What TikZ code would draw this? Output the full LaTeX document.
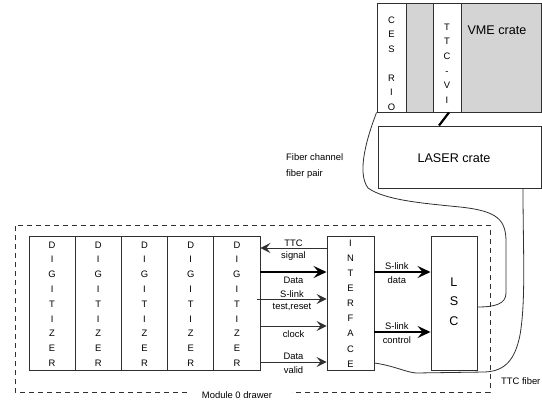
\documentclass[tikz,border=0pt]{standalone}
\usepackage{fontspec}
\setmainfont{Liberation Sans}
\usetikzlibrary{arrows.meta,calc,positioning}
\definecolor{crategray}{HTML}{D4D4D4}
\definecolor{ink}{HTML}{303030}
\tikzset{
  box/.style={draw=ink,line width=0.9pt,inner sep=0pt},
  stk/.style={align=center,font=\fontsize{9.4}{14.8}\selectfont},
  lbl/.style={font=\fontsize{9.4}{11}\selectfont,inner sep=1pt},
  sig/.style={draw=ink,line width=0.9pt,-{Stealth[length=10pt,width=10pt,inset=4pt]}},
  bus/.style={draw=black,line width=2.6pt,-{Stealth[length=13pt,width=12pt,inset=5pt]}},
  fiber/.style={draw=ink,line width=0.8pt},
  drawer/.style={draw=ink,line width=0.8pt,dash pattern=on 5pt off 4pt},
}
\begin{document}
\begin{tikzpicture}[x=1pt,y=-1pt]
  \useasboundingbox (0,0) rectangle (542,400);
  % VME crate with its two modules
  \filldraw[fill=crategray,draw=ink,line width=0.9pt] (377,3) rectangle (541,112);
  \node[box,fill=white,minimum width=29pt,minimum height=109pt] (ces) at (391.5,57.5) {};
  \node[stk,font=\fontsize{9.4}{14.5}\selectfont] at (391.5,63.5) {C\\E\\S\\~\\R\\I\\O};
  \node[box,fill=white,minimum width=28pt,minimum height=109pt] (ttcvi) at (447,57.5) {};
  \node[stk,font=\fontsize{9.4}{14.6}\selectfont] at (447,63.5) {T\\T\\C\\-\\V\\I};
  \node[anchor=west,font=\fontsize{12.6}{14}\selectfont] (vme) at (464,30) {VME crate};
  \node[box,minimum width=163pt,minimum height=62pt] (laser) at (459.5,157) {};
  \node[font=\fontsize{12.6}{14}\selectfont] at (454,158) {LASER crate};
  \draw[line width=2.2pt] ($(ttcvi.south)+(2,0)$) -- (laser.north -| 439,0);
  \node[lbl,anchor=west,align=left,font=\fontsize{9.4}{16}\selectfont] (fc) at (285,166)
    {Fiber channel\\fiber pair};
  % module 0 drawer
  \draw[drawer] (187,392) -- (15,392) -- (15,225) -- (490,225) -- (490,392) -- (292,392);
  \node[lbl] (mod) at (237,395) {Module 0 drawer};
  \foreach \i/\x in {1/52.1,2/98.3,3/144.5,4/190.7,5/236.9}{
    \node[box,minimum width=46.2pt,minimum height=134pt] (dig\i) at (\x,303) {};
    \node[stk] at (\x,304) {D\\I\\G\\I\\T\\I\\Z\\E\\R};
  }
  \node[box,minimum width=47pt,minimum height=134pt] (int) at (350.5,303) {};
  \node[stk,font=\fontsize{9.4}{15.1}\selectfont] at (350.5,303.5) {I\\N\\T\\E\\R\\F\\A\\C\\E};
  \node[box,minimum width=46pt,minimum height=134pt] (lsc) at (454,303) {};
  \node[stk,font=\fontsize{12.6}{19.5}\selectfont] at (454,301.5) {L\\S\\C};
  % signals between digitizers and interface
  \draw[sig] (int.west |- 0,248) -- (dig5.east |- 0,248)
    node[lbl,midway,above] {TTC} node[lbl,midway,below=2.5pt] {signal};
  \draw[bus] (dig5.east |- 0,272) -- (int.west |- 0,272)
    node[lbl,midway,below=3pt] {Data};
  \draw[sig] ($(dig5.east |- 0,299)+(-3,0)$) -- (int.west |- 0,299)
    node[lbl,midway,above] {S-link} node[lbl,midway,below=3pt] {test,reset};
  \draw[sig] (dig5.east |- 0,326) -- (int.west |- 0,326)
    node[lbl,midway,below=3.5pt] {clock};
  \draw[sig] (dig5.east |- 0,362) -- (int.west |- 0,362)
    node[lbl,midway,above=1pt] {Data} node[lbl,midway,below=3pt] {valid};
  % S-link to the LSC
  \draw[bus] (int.east |- 0,272) -- (lsc.west |- 0,272)
    node[lbl,pos=0.4,above] {S-link} node[lbl,pos=0.4,below=2.5pt] {data};
  \draw[bus] (int.east |- 0,332) -- (lsc.west |- 0,332)
    node[lbl,pos=0.4,above] {S-link} node[lbl,pos=0.4,below=2.5pt] {control};
  % fibers
  \draw[fiber] (ces.south west) .. controls (368,135) and (356,172) .. (368,188)
    .. controls (385,200) and (420,203) .. (460,207)
    .. controls (498,211) and (506,220) .. (506,242) -- (506,293)
    .. controls (506,304) and (495,307) .. (lsc.east |- 0,307);
  \draw[fiber] (laser.south -| 523,0) .. controls (523,250) and (526,300) .. (520,335)
    .. controls (515,360) and (505,371) .. (485,372) -- (416,373)
    .. controls (405,372) and (395,366) .. (int.east |- 0,363);
  \node[lbl,anchor=west] (ttcf) at (500,381) {TTC fiber};
\end{tikzpicture}
\end{document}
